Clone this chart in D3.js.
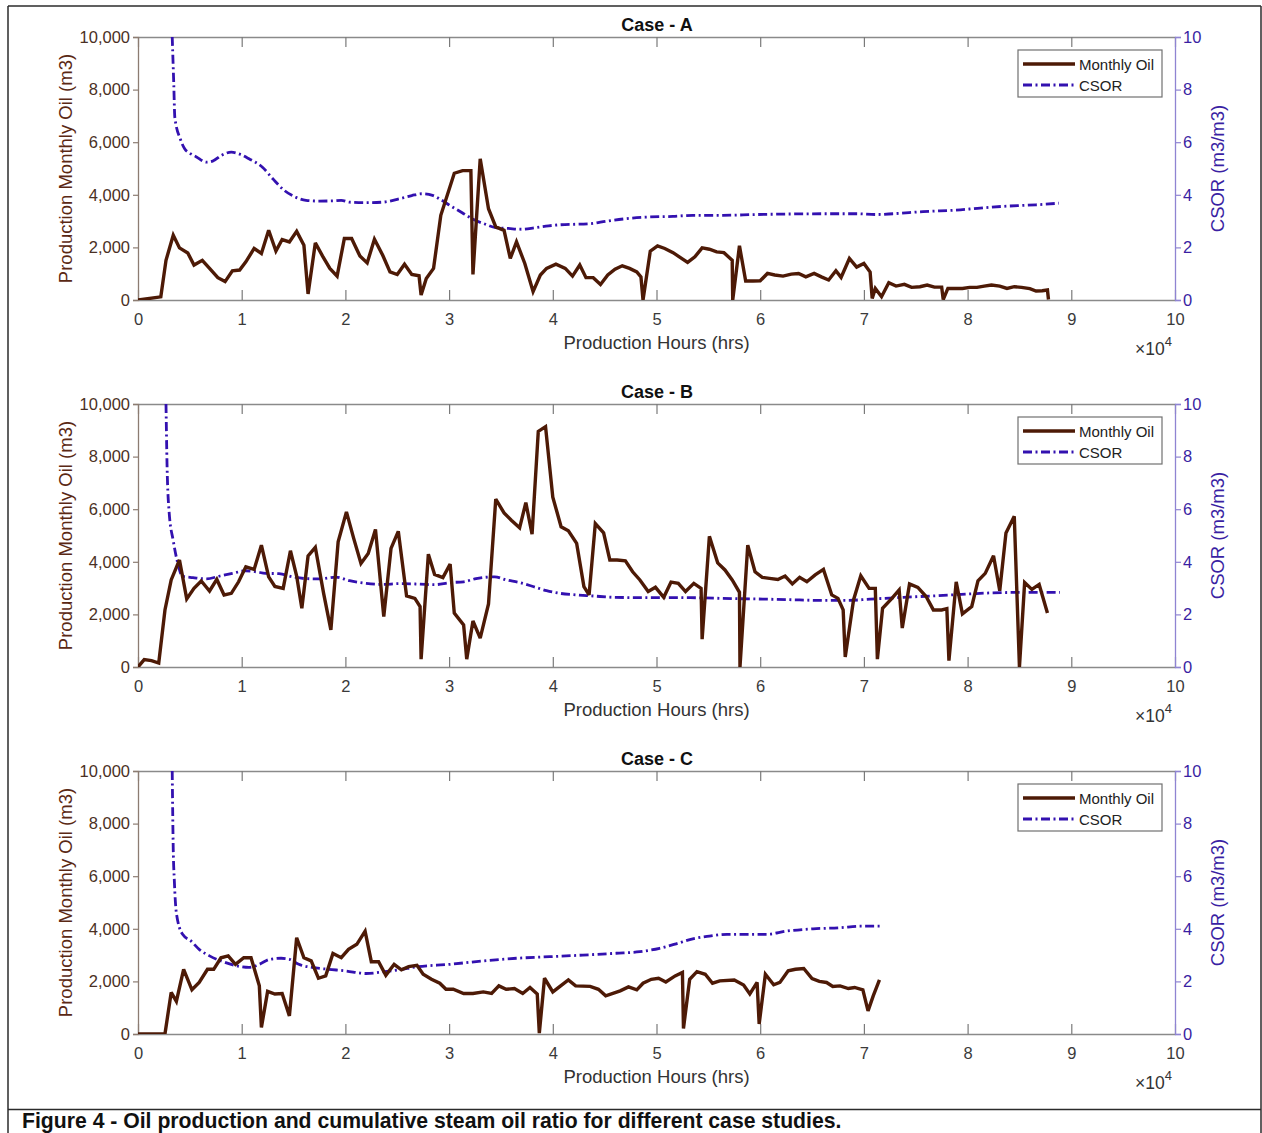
<!DOCTYPE html>
<html>
<head>
<meta charset="utf-8">
<script src="https://cdn.jsdelivr.net/npm/d3@7"></script>
<style>
  body { margin: 0; background: #fff; }
  svg { display: block; font-family: Arial, "Liberation Sans", Helvetica, sans-serif; }
</style>
</head>
<body>
<svg id="fig" width="1262" height="1133"></svg>
<script>
// Production hours are in units of 10^4 h; monthly oil in m3; CSOR in m3/m3.

const caseAOil = [[0,0],[0.22,120],[0.27,1510],[0.34,2460],[0.40,1980],[0.48,1790],[0.54,1330],[0.62,1510],[0.69,1200],[0.77,850],[0.84,700],[0.91,1110],[0.98,1140],[1.04,1450],[1.12,1960],[1.19,1770],[1.26,2650],[1.33,1860],[1.39,2300],[1.46,2210],[1.53,2610],[1.60,2080],[1.64,230],[1.71,2170],[1.78,1670],[1.85,1200],[1.92,910],[1.99,2340],[2.06,2340],[2.14,1670],[2.21,1410],[2.28,2310],[2.36,1700],[2.43,1070],[2.50,970],[2.57,1360],[2.64,970],[2.71,920],[2.73,190],[2.78,820],[2.85,1200],[2.92,3220],[3.05,4820],[3.13,4920],[3.21,4920],[3.23,970],[3.30,5370],[3.38,3470],[3.45,2780],[3.53,2650],[3.59,1580],[3.65,2210],[3.73,1390],[3.81,320],[3.88,950],[3.94,1200],[4.03,1360],[4.12,1200],[4.19,910],[4.26,1330],[4.32,850],[4.39,850],[4.46,590],[4.53,950],[4.60,1170],[4.67,1300],[4.74,1200],[4.81,1070],[4.85,880],[4.87,0],[4.94,1860],[5.01,2060],[5.08,1960],[5.16,1800],[5.22,1640],[5.30,1430],[5.37,1640],[5.44,1980],[5.51,1930],[5.58,1830],[5.65,1800],[5.73,1510],[5.735,0],[5.80,2060],[5.86,720],[5.93,720],[6.00,730],[6.07,1010],[6.14,950],[6.22,910],[6.30,985],[6.37,1010],[6.44,880],[6.52,1010],[6.59,880],[6.66,760],[6.73,1110],[6.78,860],[6.86,1580],[6.93,1250],[7.00,1390],[7.06,1060],[7.08,60],[7.11,440],[7.17,126],[7.24,660],[7.31,530],[7.39,595],[7.46,480],[7.54,505],[7.61,570],[7.68,490],[7.75,490],[7.765,20],[7.81,440],[7.88,440],[7.95,440],[8.02,480],[8.09,480],[8.16,530],[8.23,570],[8.31,530],[8.38,440],[8.45,505],[8.52,480],[8.60,430],[8.66,340],[8.72,350],[8.77,380],[8.78,20]];

const caseACsor = [[0.33,10],[0.345,8.2],[0.355,6.95],[0.41,6.1],[0.45,5.75],[0.50,5.58],[0.56,5.45],[0.66,5.24],[0.72,5.28],[0.80,5.49],[0.90,5.62],[0.99,5.53],[1.07,5.37],[1.20,5.05],[1.30,4.61],[1.41,4.17],[1.52,3.91],[1.62,3.79],[1.75,3.76],[1.88,3.77],[1.96,3.79],[2.04,3.72],[2.20,3.70],[2.36,3.72],[2.52,3.85],[2.64,3.97],[2.74,4.04],[2.84,3.98],[2.93,3.79],[3.03,3.54],[3.13,3.31],[3.22,3.09],[3.35,2.88],[3.45,2.75],[3.57,2.72],[3.70,2.69],[3.83,2.75],[3.96,2.82],[4.07,2.86],[4.36,2.90],[4.52,3.00],[4.68,3.08],[4.90,3.15],[5.16,3.18],[5.35,3.22],[5.64,3.22],[5.96,3.25],[6.29,3.27],[6.61,3.28],[6.93,3.28],[7.12,3.25],[7.28,3.28],[7.57,3.36],[7.93,3.43],[8.02,3.46],[8.34,3.56],[8.66,3.62],[8.88,3.68]];

const caseBOil = [[0,0],[0.06,280],[0.13,240],[0.20,150],[0.26,2170],[0.32,3310],[0.40,4070],[0.47,2590],[0.54,2990],[0.61,3270],[0.69,2890],[0.76,3330],[0.83,2740],[0.90,2800],[0.97,3240],[1.04,3810],[1.12,3710],[1.19,4630],[1.26,3430],[1.32,3060],[1.40,2990],[1.47,4420],[1.53,3460],[1.58,2230],[1.64,4220],[1.71,4550],[1.79,2800],[1.86,1410],[1.93,4760],[2.01,5900],[2.08,4890],[2.15,3940],[2.22,4320],[2.29,5230],[2.37,1920],[2.44,4510],[2.51,5160],[2.59,2700],[2.67,2610],[2.72,2300],[2.73,300],[2.80,4290],[2.86,3520],[2.94,3400],[3.01,3910],[3.05,2050],[3.14,1600],[3.17,300],[3.23,1750],[3.30,1100],[3.38,2400],[3.45,6380],[3.53,5860],[3.60,5580],[3.68,5290],[3.74,6250],[3.80,5050],[3.86,8960],[3.93,9140],[4.00,6460],[4.08,5330],[4.15,5180],[4.23,4700],[4.30,3060],[4.35,2740],[4.41,5450],[4.49,5100],[4.55,4070],[4.62,4070],[4.70,4040],[4.77,3620],[4.84,3310],[4.92,2870],[4.99,3030],[5.07,2650],[5.14,3230],[5.21,3180],[5.28,2870],[5.36,3180],[5.43,2990],[5.44,1060],[5.51,4970],[5.59,3960],[5.66,3690],[5.73,3310],[5.80,2840],[5.805,0],[5.88,4630],[5.95,3620],[6.02,3410],[6.09,3370],[6.17,3330],[6.24,3460],[6.31,3160],[6.38,3410],[6.45,3240],[6.53,3500],[6.61,3710],[6.69,2740],[6.75,2610],[6.80,2170],[6.82,380],[6.90,2550],[6.97,3470],[7.05,2990],[7.11,2990],[7.13,300],[7.18,2230],[7.27,2610],[7.34,2930],[7.37,1480],[7.44,3160],[7.52,3030],[7.60,2680],[7.67,2170],[7.75,2170],[7.80,2220],[7.82,240],[7.89,3240],[7.95,2020],[8.04,2300],[8.10,3280],[8.17,3560],[8.25,4230],[8.31,2900],[8.37,5100],[8.45,5730],[8.50,0],[8.55,3210],[8.62,2950],[8.69,3140],[8.77,2050]];

const caseBCsor = [[0.27,10],[0.28,7.7],[0.30,5.9],[0.34,4.8],[0.38,4.0],[0.43,3.45],[0.53,3.40],[0.66,3.35],[0.79,3.46],[0.91,3.56],[1.04,3.66],[1.14,3.62],[1.23,3.56],[1.36,3.55],[1.49,3.43],[1.62,3.36],[1.75,3.35],[1.91,3.42],[2.04,3.28],[2.20,3.18],[2.36,3.14],[2.52,3.17],[2.72,3.15],[2.86,3.13],[3.01,3.21],[3.14,3.24],[3.26,3.36],[3.44,3.43],[3.55,3.31],[3.68,3.21],[3.81,3.06],[3.94,2.90],[4.07,2.80],[4.23,2.74],[4.39,2.70],[4.58,2.65],[4.77,2.64],[5.10,2.64],[5.42,2.63],[5.74,2.60],[6.06,2.58],[6.38,2.55],[6.58,2.53],[6.83,2.53],[7.06,2.58],[7.38,2.65],[7.70,2.71],[8.02,2.78],[8.34,2.83],[8.66,2.84],[8.89,2.84]];

const caseCOil = [[0,0],[0.26,0],[0.32,1580],[0.37,1240],[0.44,2460],[0.52,1680],[0.59,1960],[0.67,2460],[0.73,2460],[0.80,2900],[0.87,2970],[0.94,2650],[1.02,2900],[1.09,2900],[1.17,1830],[1.19,250],[1.25,1620],[1.32,1520],[1.39,1540],[1.46,690],[1.53,3660],[1.60,2900],[1.67,2780],[1.74,2120],[1.81,2210],[1.88,3060],[1.96,2900],[2.03,3220],[2.11,3410],[2.19,3910],[2.25,2750],[2.32,2750],[2.39,2230],[2.47,2650],[2.54,2440],[2.61,2560],[2.69,2610],[2.75,2270],[2.83,2080],[2.91,1930],[2.97,1700],[3.04,1700],[3.14,1540],[3.23,1540],[3.33,1600],[3.41,1540],[3.48,1830],[3.55,1700],[3.63,1730],[3.71,1540],[3.78,1770],[3.85,1520],[3.87,30],[3.92,2120],[4.00,1600],[4.15,2060],[4.22,1830],[4.36,1810],[4.44,1700],[4.51,1450],[4.65,1640],[4.73,1790],[4.81,1680],[4.87,1930],[4.95,2080],[5.02,2120],[5.09,1980],[5.18,2210],[5.25,2340],[5.26,210],[5.32,2080],[5.39,2370],[5.47,2270],[5.54,1930],[5.61,2020],[5.75,2050],[5.84,1860],[5.90,1520],[5.97,1960],[5.99,380],[6.05,2270],[6.13,1870],[6.19,1960],[6.27,2400],[6.34,2460],[6.42,2490],[6.50,2110],[6.57,2000],[6.64,1960],[6.70,1810],[6.77,1830],[6.85,1730],[6.91,1770],[6.99,1680],[7.04,880],[7.09,1450],[7.15,2060]];

const caseCCsor = [[0.33,10],[0.34,7.0],[0.35,5.87],[0.37,4.6],[0.43,3.79],[0.51,3.54],[0.59,3.22],[0.69,2.97],[0.82,2.75],[0.95,2.59],[1.07,2.53],[1.17,2.65],[1.27,2.84],[1.38,2.88],[1.46,2.84],[1.55,2.65],[1.68,2.53],[1.84,2.46],[2.00,2.40],[2.20,2.30],[2.36,2.36],[2.52,2.44],[2.68,2.55],[3.01,2.65],[3.33,2.78],[3.65,2.88],[3.97,2.94],[4.29,3.00],[4.61,3.07],[4.84,3.13],[5.03,3.26],[5.19,3.43],[5.35,3.62],[5.51,3.72],[5.68,3.79],[5.90,3.79],[6.06,3.79],[6.25,3.91],[6.51,4.00],[6.77,4.04],[6.96,4.10],[7.17,4.10]];

const caseTitles = ["Case - A", "Case - B", "Case - C"];
const hourTicks = [0, 1, 2, 3, 4, 5, 6, 7, 8, 9, 10];
const oilTicks = [0, 2000, 4000, 6000, 8000, 10000];
const csorTicks = [0, 2, 4, 6, 8, 10];
const legendLabels = ["Monthly Oil", "CSOR"];
const xLabel = "Production Hours (hrs)";
const yLeftLabel = "Production Monthly Oil (m3)";
const yRightLabel = "CSOR (m3/m3)";
const caption = "Figure 4 - Oil production and cumulative steam oil ratio for different case studies.";

const OIL_COLOR = "#4d1a06";
const CSOR_COLOR = "#3311b0";
const CSOR_DASH = "9,3.5,2,3.5";

const panels = [
  { title: caseTitles[0], top: 37,  oil: caseAOil, csor: caseACsor },
  { title: caseTitles[1], top: 404, oil: caseBOil, csor: caseBCsor },
  { title: caseTitles[2], top: 771, oil: caseCOil, csor: caseCCsor }
];

const svg = d3.select("#fig");
svg.append("rect").attr("width", 1262).attr("height", 1133).attr("fill", "#fff");

// figure frame and caption band
const frame = svg.append("g").attr("fill", "none").attr("stroke", "#2b2b2b").attr("stroke-width", 1.5);
frame.append("line").attr("x1", 8).attr("x2", 1261).attr("y1", 6).attr("y2", 6);
frame.append("line").attr("x1", 8).attr("x2", 8).attr("y1", 6).attr("y2", 1133);
frame.append("line").attr("x1", 1261).attr("x2", 1261).attr("y1", 6).attr("y2", 1133);
frame.append("line").attr("x1", 8).attr("x2", 1261).attr("y1", 1109.5).attr("y2", 1109.5);

svg.append("text")
  .attr("x", 22).attr("y", 1127.5)
  .attr("font-size", 21.2).attr("font-weight", "bold").attr("fill", "#111")
  .text(caption);

const left = 138, right = 1175, plotH = 263;
const x = d3.scaleLinear().domain([0, 10]).range([left, right]);

panels.forEach((p, i) => {
  const top = p.top, bottom = top + plotH;
  const yOil = d3.scaleLinear().domain([0, 10000]).range([bottom, top]);
  const yCsor = d3.scaleLinear().domain([0, 10]).range([bottom, top]);
  const g = svg.append("g");

  const clipId = "clip" + i;
  svg.append("clipPath").attr("id", clipId)
    .append("rect").attr("x", left).attr("y", top).attr("width", right - left).attr("height", plotH);

  // bottom axis: inward ticks, labels below
  const xb = g.append("g").attr("transform", `translate(0,${bottom})`)
    .call(d3.axisBottom(x).tickValues(hourTicks).tickFormat(d3.format("d"))
      .tickSizeInner(-10).tickSizeOuter(0).tickPadding(13));
  xb.select(".domain").attr("stroke", "#8a8a8a").attr("stroke-width", 1.3);
  xb.selectAll(".tick line").attr("stroke", "#7a7a7a").attr("stroke-width", 1.2);
  xb.selectAll("text").attr("font-size", 16.5).attr("fill", "#3a3a3a").attr("font-family", "Arial, 'Liberation Sans', sans-serif");

  // top axis: inward ticks only
  const xt = g.append("g").attr("transform", `translate(0,${top})`)
    .call(d3.axisTop(x).tickValues(hourTicks).tickFormat("")
      .tickSizeInner(-10).tickSizeOuter(0));
  xt.select(".domain").attr("stroke", "#8a8a8a").attr("stroke-width", 1.3);
  xt.selectAll(".tick line").attr("stroke", "#7a7a7a").attr("stroke-width", 1.2);

  // left axis (monthly oil)
  const yl = g.append("g").attr("transform", `translate(${left},0)`)
    .call(d3.axisLeft(yOil).tickValues(oilTicks).tickFormat(d3.format(","))
      .tickSize(5).tickPadding(3));
  yl.select(".domain").attr("stroke", "#8c7c72").attr("stroke-width", 1.3);
  yl.selectAll(".tick line").attr("stroke", "#8c7c72").attr("stroke-width", 1.2);
  yl.selectAll("text").attr("font-size", 16.5).attr("fill", "#4a3024").attr("font-family", "Arial, 'Liberation Sans', sans-serif");

  // right axis (CSOR)
  const yr = g.append("g").attr("transform", `translate(${right},0)`)
    .call(d3.axisRight(yCsor).tickValues(csorTicks).tickFormat(d3.format("d"))
      .tickSize(6).tickPadding(2));
  yr.select(".domain").attr("stroke", "#8f84d2").attr("stroke-width", 1.3);
  yr.selectAll(".tick line").attr("stroke", "#8f84d2").attr("stroke-width", 1.2);
  yr.selectAll("text").attr("font-size", 16.5).attr("fill", "#3a1fa3").attr("font-family", "Arial, 'Liberation Sans', sans-serif");

  // series
  const oilLine = d3.line().x(d => x(d[0])).y(d => yOil(d[1]));
  const csorLine = d3.line().x(d => x(d[0])).y(d => yCsor(d[1])).curve(d3.curveMonotoneX);
  const series = g.append("g").attr("clip-path", `url(#${clipId})`);
  series.append("path").datum(p.csor)
    .attr("d", csorLine).attr("fill", "none")
    .attr("stroke", CSOR_COLOR).attr("stroke-width", 2.8)
    .attr("stroke-dasharray", CSOR_DASH);
  series.append("path").datum(p.oil)
    .attr("d", oilLine).attr("fill", "none")
    .attr("stroke", OIL_COLOR).attr("stroke-width", 3.4)
    .attr("stroke-linejoin", "miter").attr("stroke-miterlimit", 3);

  // title
  g.append("text").attr("x", (left + right) / 2 + 0.5).attr("y", top - 6)
    .attr("text-anchor", "middle").attr("font-size", 18).attr("font-weight", "bold")
    .attr("fill", "#111").text(p.title);

  // axis titles
  g.append("text").attr("x", (left + right) / 2).attr("y", bottom + 49)
    .attr("text-anchor", "middle").attr("font-size", 18.5).attr("fill", "#333").text(xLabel);
  const mult = g.append("text").attr("x", 1135).attr("y", bottom + 55)
    .attr("font-size", 17.5).attr("fill", "#333");
  mult.append("tspan").text("\u00d710");
  mult.append("tspan").attr("dy", -9).attr("font-size", 13).text("4");

  g.append("text")
    .attr("transform", `translate(72,${(top + bottom) / 2}) rotate(-90)`)
    .attr("text-anchor", "middle").attr("font-size", 18.5).attr("fill", "#5a2814").text(yLeftLabel);
  g.append("text")
    .attr("transform", `translate(1224,${(top + bottom) / 2}) rotate(-90)`)
    .attr("text-anchor", "middle").attr("font-size", 18.5).attr("fill", "#3a1fa3").text(yRightLabel);

  // legend
  const lg = g.append("g").attr("transform", `translate(1018,${top + 13})`);
  lg.append("rect").attr("width", 144).attr("height", 47)
    .attr("fill", "#fff").attr("stroke", "#707070").attr("stroke-width", 1.2);
  const items = [
    { label: legendLabels[0], color: OIL_COLOR, width: 3.4, dash: null },
    { label: legendLabels[1], color: CSOR_COLOR, width: 2.8, dash: CSOR_DASH }
  ];
  items.forEach((it, k) => {
    const yy = 14 + k * 21;
    lg.append("line").attr("x1", 5).attr("x2", 57).attr("y1", yy).attr("y2", yy)
      .attr("stroke", it.color).attr("stroke-width", it.width)
      .attr("stroke-dasharray", it.dash);
    lg.append("text").attr("x", 61).attr("y", yy + 5.5)
      .attr("font-size", 15).attr("fill", "#222").text(it.label);
  });
});
</script>
</body>
</html>
